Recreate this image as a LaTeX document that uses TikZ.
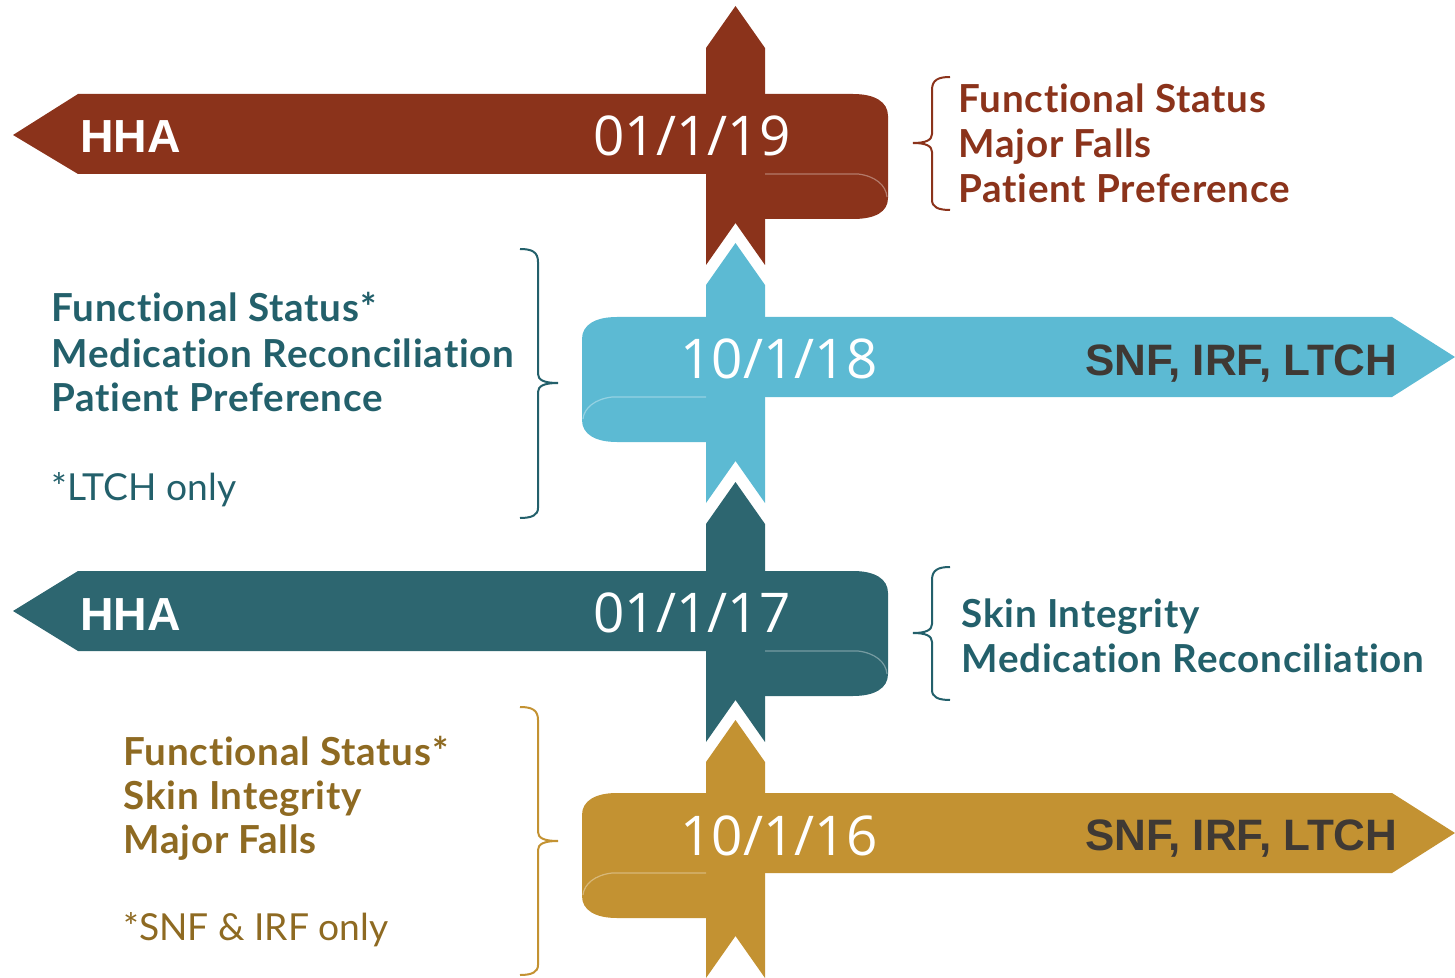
\documentclass[tikz,border=0pt]{standalone}
\usepackage{fontspec}
\setmainfont{Lato}[Ligatures=NoCommon]
\newfontfamily\itemfont{Lato}[LetterSpace=2, Ligatures=NoCommon]
\newfontfamily\datefont{Open Sans}
\newfontfamily\tagfont{Liberation Sans}

\definecolor{rust}{HTML}{8B331B}
\definecolor{sky}{HTML}{5CBAD3}
\definecolor{deepteal}{HTML}{2D6670}
\definecolor{ochre}{HTML}{C39232}
\definecolor{tealtext}{HTML}{23606B}
\definecolor{ochretext}{HTML}{8E6A22}
\definecolor{charcoal}{HTML}{3F3934}

\tikzset{
  foldline/.style={white, opacity=0.35, line width=0.6pt},
  bracket/.style={line width=1pt},
  datelabel/.style={anchor=base west, inner sep=0pt, text=white,
    font=\datefont\fontsize{27.4pt}{30pt}\selectfont},
  hhalabel/.style={anchor=base west, inner sep=0pt, text=white,
    font=\tagfont\bfseries\fontsize{23.2pt}{26pt}\selectfont},
  setlabel/.style={anchor=base west, inner sep=0pt, text=charcoal,
    font=\tagfont\bfseries\fontsize{22pt}{24pt}\selectfont},
  itemlabel/.style={anchor=base west, inner sep=0pt,
    font=\itemfont\bfseries\fontsize{19.3pt}{22pt}\selectfont},
  notelabel/.style={anchor=base west, inner sep=0pt,
    font=\fontsize{18.6pt}{22pt}\selectfont},
}

% vertical chevron: colour, tip y, bottom y
\newcommand\chevronbar[3]{%
  \fill[#1] (706,{#2+42}) -- (735.5,#2) -- (765,{#2+42}) -- (765,#3)
    -- (735.5,{#3-42}) -- (706,#3) -- cycle;}

\begin{document}
\begin{tikzpicture}[x=0.5pt,y=-0.5pt]
\useasboundingbox (0,0) rectangle (1455,978);

% ---------- 01/1/19 : HHA ----------
\fill[rust] (13,135) -- (78,94) -- (853,94) .. controls (875,94) and (888,102) .. (888,116)
  -- (888,198) .. controls (888,212) and (875,219) .. (853,219) -- (765,219) -- (765,174)
  -- (78,174) -- cycle;
\chevronbar{rust}{6}{265}
\draw[foldline] (765,174) -- (858,174) .. controls (875,176) and (886,185) .. (887,197);
\node[hhalabel] (hha1) at (80,153) {HHA};
\node[datelabel] (d19) at (593,156) {01/1/19};

% ---------- 10/1/18 : SNF, IRF, LTCH ----------
\fill[sky] (1455,357) -- (1392,317) -- (617,317) .. controls (595,317) and (582,325) .. (582,339)
  -- (582,420) .. controls (582,434) and (595,442) .. (617,442) -- (706,442) -- (706,397)
  -- (1392,397) -- cycle;
\chevronbar{sky}{243}{503}
\draw[foldline] (706,397) -- (612,397) .. controls (595,399) and (584,408) .. (583,419);
\node[datelabel] (d18) at (680,379) {10/1/18};
\node[setlabel] (set18) at (1085,376) {SNF, IRF, LTCH};

% ---------- 01/1/17 : HHA ----------
\fill[deepteal] (13,611) -- (78,571) -- (853,571) .. controls (875,571) and (888,579) .. (888,593)
  -- (888,674) .. controls (888,688) and (875,696) .. (853,696) -- (765,696) -- (765,651)
  -- (78,651) -- cycle;
\chevronbar{deepteal}{482}{742}
\draw[foldline] (765,651) -- (858,651) .. controls (875,653) and (886,662) .. (887,674);
\node[hhalabel] (hha2) at (80,630) {HHA};
\node[datelabel] (d17) at (593,632) {01/1/17};

% ---------- 10/1/16 : SNF, IRF, LTCH ----------
\fill[ochre] (1455,833) -- (1392,793) -- (617,793) .. controls (595,793) and (582,801) .. (582,815)
  -- (582,896) .. controls (582,910) and (595,918) .. (617,918) -- (706,918) -- (706,873)
  -- (1392,873) -- cycle;
\chevronbar{ochre}{720}{978}
\draw[foldline] (706,873) -- (612,873) .. controls (595,875) and (584,884) .. (583,895);
\node[datelabel] (d16) at (680,855) {10/1/16};
\node[setlabel] (set16) at (1085,850) {SNF, IRF, LTCH};

% ---------- brackets ----------
\draw[bracket, rust] (950,77) .. controls (938,77) and (932,80) .. (932,90) -- (932,134)
  .. controls (932,140) and (926,143) .. (913,143) .. controls (926,143) and (932,146) .. (932,152)
  -- (932,200) .. controls (932,207) and (938,210) .. (950,210);
\draw[bracket, tealtext] (520,249) .. controls (532,249) and (538,252) .. (538,262) -- (538,374)
  .. controls (538,380) and (544,383) .. (558,383) .. controls (544,383) and (538,386) .. (538,392)
  -- (538,508) .. controls (538,515) and (532,518) .. (520,518);
\draw[bracket, tealtext] (950,567) .. controls (938,567) and (932,570) .. (932,580) -- (932,624)
  .. controls (932,630) and (926,633) .. (913,633) .. controls (926,633) and (932,636) .. (932,642)
  -- (932,690) .. controls (932,697) and (938,700) .. (950,700);
\draw[bracket, ochre] (520,707) .. controls (532,707) and (538,710) .. (538,720) -- (538,832)
  .. controls (538,838) and (544,841) .. (558,841) .. controls (544,841) and (538,844) .. (538,850)
  -- (538,965) .. controls (538,972) and (532,975) .. (520,975);

% ---------- measure lists ----------
\node[itemlabel, text=rust] (r1) at (958,113) {Functional Status};
\node[itemlabel, text=rust] (r2) at (958,158) {Major Falls};
\node[itemlabel, text=rust] (r3) at (958,203) {Patient Preference};

\node[itemlabel, text=tealtext] (b1) at (51,322) {Functional Status*};
\node[itemlabel, text=tealtext] (b2) at (51,367) {Medication Reconciliation};
\node[itemlabel, text=tealtext] (b3) at (51,411) {Patient Preference};
\node[notelabel, text=tealtext] (b4) at (51,500) {*LTCH only};

\node[itemlabel, text=tealtext] (t1) at (961,627) {Skin Integrity};
\node[itemlabel, text=tealtext] (t2) at (961,672) {Medication Reconciliation};

\node[itemlabel, text=ochretext] (g1) at (123,765) {Functional Status*};
\node[itemlabel, text=ochretext] (g2) at (123,809) {Skin Integrity};
\node[itemlabel, text=ochretext] (g3) at (123,853) {Major Falls};
\node[notelabel, text=ochretext] (g4) at (123,940) {*SNF \& IRF only};
\end{tikzpicture}
\end{document}
